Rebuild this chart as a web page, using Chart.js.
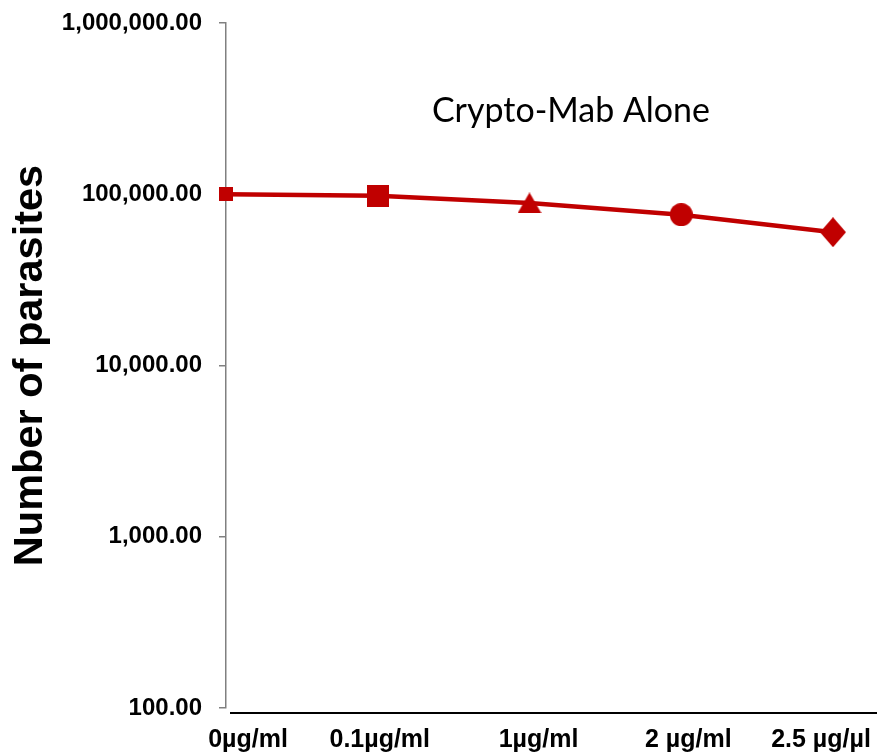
<!DOCTYPE html>
<html>
<head>
<meta charset="utf-8">
<script src="https://cdn.jsdelivr.net/npm/chart.js@4.4.1/dist/chart.umd.min.js"></script>
<style>
  html, body { margin: 0; padding: 0; background: #ffffff; }
  #wrap { width: 877px; height: 755px; }
</style>
</head>
<body>
<div id="wrap"><canvas id="chart" width="877" height="755"></canvas></div>
<script>
// Antibody concentrations on the x axis
const categories = ['0µg/ml', '0.1µg/ml', '1µg/ml', '2 µg/ml', '2.5 µg/µl'];
// Parasite counts at each concentration
const parasiteCounts = [100000, 98000, 89000, 76000, 60000];
// Log-axis ticks and their printed labels
const yTickValues = [100, 1000, 10000, 100000, 1000000];
const yTickLabels = ['100.00', '1,000.00', '10,000.00', '100,000.00', '1,000,000.00'];
const seriesTitle = 'Crypto-Mab Alone';
const yAxisTitle = 'Number of parasites';

const RED = '#C00000';

// Marker images: small square, square, triangle, circle, diamond
function markerCanvas(w, h, draw) {
  const c = document.createElement('canvas');
  c.width = w; c.height = h;
  const g = c.getContext('2d');
  g.fillStyle = RED;
  g.beginPath();
  draw(g, w, h);
  g.fill();
  return c;
}
const markers = [
  markerCanvas(14, 14, (g, w, h) => g.rect(0, 0, w, h)),
  markerCanvas(22, 22, (g, w, h) => g.rect(0, 0, w, h)),
  markerCanvas(24, 21, (g, w, h) => { g.moveTo(w / 2, 0); g.lineTo(w, h); g.lineTo(0, h); g.closePath(); }),
  markerCanvas(23, 23, (g, w, h) => g.arc(w / 2, h / 2, w / 2, 0, Math.PI * 2)),
  markerCanvas(26, 30, (g, w, h) => { g.moveTo(w / 2, 0); g.lineTo(w, h / 2); g.lineTo(w / 2, h); g.lineTo(0, h / 2); g.closePath(); })
];

// Horizontal nudges for the category labels under the axis
const labelShift = [22, 2, 9, 7, -12];

const overlay = {
  id: 'overlay',
  afterDraw(chart) {
    const { ctx, chartArea } = chart;
    const xs = chart.scales.x;
    ctx.save();
    // x axis rule, sitting just under the lowest gridline
    ctx.strokeStyle = '#000000';
    ctx.lineWidth = 2;
    ctx.beginPath();
    ctx.moveTo(chartArea.left + 4, chartArea.bottom + 5);
    ctx.lineTo(chart.width, chartArea.bottom + 5);
    ctx.stroke();

    // category labels
    ctx.fillStyle = '#000000';
    ctx.font = 'bold 25px "Liberation Sans", Arial, sans-serif';
    ctx.textAlign = 'center';
    ctx.textBaseline = 'alphabetic';
    categories.forEach((c, i) => {
      ctx.fillText(c, xs.getPixelForValue(i) + labelShift[i], chartArea.bottom + 39);
    });

    // series caption
    ctx.font = '34px Lato, "Open Sans", sans-serif';
    ctx.textAlign = 'left';
    const w = ctx.measureText(seriesTitle).width;
    ctx.translate(432, 122);
    ctx.scale(278 / w, 1);
    ctx.fillText(seriesTitle, 0, 0);
    ctx.restore();
  }
};

new Chart(document.getElementById('chart'), {
  type: 'line',
  data: {
    labels: categories,
    datasets: [{
      data: parasiteCounts,
      borderColor: RED,
      backgroundColor: RED,
      borderWidth: 4.5,
      tension: 0,
      pointStyle: markers,
      pointRadius: 11,
      pointHoverRadius: 11
    }]
  },
  options: {
    responsive: false,
    animation: false,
    devicePixelRatio: 1,
    layout: { padding: { left: 0, top: 23, right: 44, bottom: 47 } },
    plugins: { legend: { display: false }, tooltip: { enabled: false } },
    scales: {
      x: {
        type: 'category',
        offset: false,
        grid: { display: false },
        border: { display: false },
        ticks: { display: false },
        afterFit(scale) { scale.height = 0; }
      },
      y: {
        type: 'logarithmic',
        min: 100,
        max: 1000000,
        afterBuildTicks(scale) { scale.ticks = yTickValues.map(v => ({ value: v })); },
        afterFit(scale) {
          scale.width = 226;
          scale.paddingTop = 0;
          scale.paddingBottom = 0;
        },
        grid: { display: true, drawOnChartArea: false, drawTicks: true, tickLength: 7, color: '#808080', lineWidth: 1.5 },
        border: { display: true, color: '#808080', width: 1.5 },
        ticks: {
          padding: 17,
          color: '#000000',
          font: { family: '"Liberation Sans", Arial, sans-serif', size: 24, weight: 'bold' },
          callback: (v) => { const i = yTickValues.indexOf(v); return i >= 0 ? yTickLabels[i] : ''; }
        },
        title: {
          display: true,
          text: yAxisTitle,
          color: '#000000',
          padding: { top: 6, bottom: 0 },
          font: { family: '"Liberation Sans", Arial, sans-serif', size: 41.5, weight: 'bold' }
        }
      }
    }
  },
  plugins: [overlay]
});
</script>
</body>
</html>
